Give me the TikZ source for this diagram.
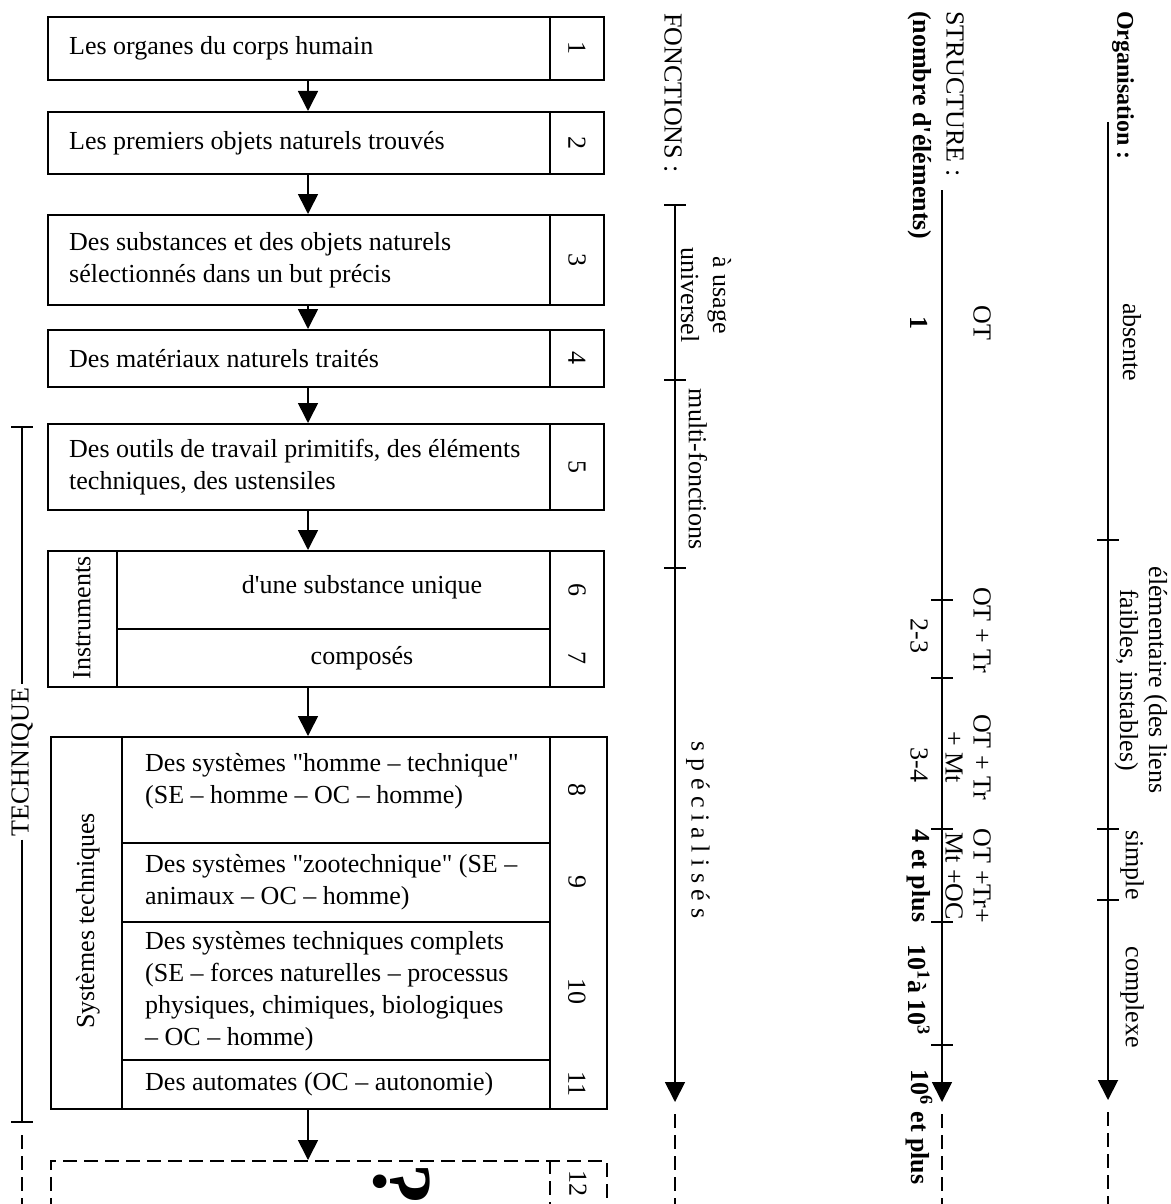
\documentclass[tikz,border=0pt]{standalone}
\usepackage{fontspec}
\newfontfamily\serifplain{Liberation Serif}
\usetikzlibrary{arrows.meta}
\begin{document}
\begin{tikzpicture}[x=1pt,y=-1pt,
  every node/.style={inner sep=0pt, font=\serifplain\fontsize{26}{32}\selectfont},
  frame/.style={draw, line width=1.6pt, anchor=north west},
  dframe/.style={draw, line width=1.6pt, dash pattern=on 14pt off 7pt, anchor=north west},
  lbl/.style={anchor=west, align=left},
  num/.style={rotate=-90},
  vlab/.style={rotate=-90},
  bvlab/.style={rotate=-90, font=\serifplain\fontsize{26}{32}\selectfont\bfseries},
  arr/.style={line width=1.6pt, -{Triangle[length=20pt,width=20pt]}},
  ax/.style={line width=1.8pt},
  axarr/.style={line width=1.8pt, -{Triangle[length=20pt,width=20pt]}},
  dsh/.style={line width=1.6pt, dash pattern=on 14pt off 7pt},
]
\useasboundingbox (0,0) rectangle (1170,1204);
\coordinate (D) at (550,0);
\coordinate (N) at (577,0);
\coordinate (A) at (308,0);

% ---------- numbered boxes ----------
\node[frame, minimum width=556pt, minimum height=63pt] (b1) at (47,16) {};
\node[frame, minimum width=556pt, minimum height=62pt] (b2) at (47,111) {};
\node[frame, minimum width=556pt, minimum height=90pt] (b3) at (47,214) {};
\node[frame, minimum width=556pt, minimum height=57pt] (b4) at (47,329) {};
\node[frame, minimum width=556pt, minimum height=86pt] (b5) at (47,423) {};
\node[frame, minimum width=556pt, minimum height=136pt] (bi) at (47,550) {};
\node[frame, minimum width=556pt, minimum height=372pt] (bs) at (50,736) {};
\node[dframe, minimum width=556pt, minimum height=90pt] (bq) at (50,1160) {};

\foreach \b in {b1,b2,b3,b4,b5,bi,bs}{\draw[line width=1.6pt] (\b.north -| D) -- (\b.south -| D);}
\draw[dsh] (bq.north -| D) -- (bq.south -| D);

\node[lbl] (t1) at ([xshift=22pt]b1.west) {Les organes du corps humain};
\node[lbl] (t2) at ([xshift=22pt]b2.west) {Les premiers objets naturels trouvés};
\node[lbl] (t3) at ([xshift=22pt]b3.west) {Des substances et des objets naturels\\sélectionnés dans un but précis};
\node[lbl] (t4) at ([xshift=22pt]b4.west) {Des matériaux naturels traités};
\node[lbl] (t5) at ([xshift=22pt]b5.west) {Des outils de travail primitifs, des éléments\\techniques, des ustensiles};

\node[num] (n1) at (b1.center -| N) {1};
\node[num] (n2) at (b2.center -| N) {2};
\node[num] (n3) at (b3.center -| N) {3};
\node[num] (n4) at (b4.center -| N) {4};
\node[num] (n5) at (b5.center -| N) {5};

% Instruments
\draw[line width=1.6pt] (117,550) -- (117,686);
\draw[line width=1.6pt] (117,629) -- (550,629);
\node[rotate=90] (ti) at (82,618) {Instruments};
\node (t6) at (362,587) {d'une substance unique};
\node (t7) at (362,658) {composés};
\node[num] (n6) at (577,590) {6};
\node[num] (n7) at (577,658) {7};

% Systemes techniques
\draw[line width=1.6pt] (122,736) -- (122,1108);
\draw[line width=1.6pt] (122,843) -- (550,843);
\draw[line width=1.6pt] (122,922) -- (550,922);
\draw[line width=1.6pt] (122,1060) -- (550,1060);
\node[rotate=90] (ts) at (88,921) {Systèmes techniques};
\node[lbl] (t8) at (145,781) {Des systèmes "homme – technique"\\(SE – homme – OC – homme)};
\node[lbl] (t9) at (145,882) {Des systèmes "zootechnique" (SE –\\animaux – OC – homme)};
\node[lbl] (t10) at (145,991) {Des systèmes techniques complets\\(SE – forces naturelles – processus\\physiques, chimiques, biologiques\\– OC – homme)};
\node[lbl] (t11) at (145,1084) {Des automates (OC – autonomie)};
\node[num] (n8) at (577,790) {8};
\node[num] (n9) at (577,882) {9};
\node[num] (n10) at (577,991) {10};
\node[num] (n11) at (577,1084) {11};
\node[num] (n12) at (578,1183) {12};
\node[rotate=-90, font=\serifplain\fontsize{84}{84}\selectfont\bfseries] (qm) at (402,1184) {?};

% arrows between boxes
\draw[arr] (b1.south -| A) -- (b2.north -| A);
\draw[arr] (b2.south -| A) -- (b3.north -| A);
\draw[arr] (b3.south -| A) -- (b4.north -| A);
\draw[arr] (b4.south -| A) -- (b5.north -| A);
\draw[arr] (b5.south -| A) -- (bi.north -| A);
\draw[arr] (bi.south -| A) -- (bs.north -| A);
\draw[arr] (bs.south -| A) -- (bq.north -| A);

% TECHNIQUE bracket
\coordinate (tt) at (22,427);
\coordinate (tb) at (22,1122);
\node[rotate=90, inner xsep=3pt] (tech) at (22,762) {TECHNIQUE};
\draw[ax] (tt) -- (tech.east);
\draw[ax] (tech.west) -- (tb);
\draw[ax] ([xshift=-11pt]tt) -- ([xshift=11pt]tt);
\draw[ax] ([xshift=-11pt]tb) -- ([xshift=11pt]tb);
\draw[dsh] (22,1135) -- (22,1204);

% FONCTIONS axis
\node[vlab, anchor=west] (fon) at (673,13) {FONCTIONS :};
\coordinate (f0) at (675,205);
\coordinate (f1) at (675,380);
\coordinate (f2) at (675,568);
\coordinate (fe) at (675,1102);
\draw[axarr] (f0) -- (fe);
\foreach \p in {f0,f1,f2}{\draw[ax] ([xshift=-11pt]\p) -- ([xshift=11pt]\p);}
\draw[dsh] (675,1114) -- (675,1204);
\node[vlab, align=center] (fa) at (706,295) {à usage\\universel};
\node[vlab] (fb) at (698,469) {multi-fonctions};
\node[vlab] (fc) at (698,830) {s p é c i a l i s é s};

% STRUCTURE axis
\node[vlab, anchor=west] (st) at (955,11) {STRUCTURE :};
\node[bvlab, anchor=west] (stb) at (920,11) {(nombre d'éléments)};
\coordinate (s0) at (942,190);
\coordinate (s1) at (942,600);
\coordinate (s2) at (942,678);
\coordinate (s3) at (942,829);
\coordinate (s4) at (942,922);
\coordinate (s5) at (942,1045);
\coordinate (se) at (942,1102);
\draw[axarr] (s0) -- (se);
\foreach \p in {s1,s2,s3,s4,s5}{\draw[ax] ([xshift=-11pt]\p) -- ([xshift=11pt]\p);}
\draw[dsh] (942,1114) -- (942,1204);
\node[vlab] (o1) at (982,323) {OT};
\node[bvlab] (c1) at (919,323) {1};
\node[vlab] (o2) at (982,630) {OT + Tr};
\node[vlab] (c2) at (919,636) {2-3};
\node[vlab, align=center, font=\serifplain\fontsize{26}{28}\selectfont] (o3) at (968,757) {OT + Tr\\+ Mt};
\node[vlab] (c3) at (919,765) {3-4};
\node[vlab, align=center, font=\serifplain\fontsize{26}{28}\selectfont] (o4) at (968,876) {OT +Tr+\\Mt +OC};
\node[bvlab] (c4) at (919,876) {4 et plus};
\node[bvlab] (c5) at (919,990) {10\textsuperscript{1}à 10\textsuperscript{3}};
\node[bvlab] (c6) at (919,1127) {10\textsuperscript{6} et plus};

% Organisation axis
\node[vlab, anchor=west, font=\serifplain\fontsize{24}{28}\selectfont\bfseries] (org) at (1123,11) {Organisation :};
\coordinate (g0) at (1108,122);
\coordinate (g1) at (1108,540);
\coordinate (g2) at (1108,829);
\coordinate (g3) at (1108,900);
\coordinate (ge) at (1108,1100);
\draw[axarr] (g0) -- (ge);
\foreach \p in {g1,g2,g3}{\draw[ax] ([xshift=-11pt]\p) -- ([xshift=11pt]\p);}
\draw[dsh] (1108,1112) -- (1108,1204);
\node[vlab] (ga) at (1132,342) {absente};
\node[vlab, align=center, font=\serifplain\fontsize{26}{29}\selectfont] (gb) at (1141,680) {élémentaire (des liens\\faibles, instables)};
\node[vlab] (gc) at (1132,865) {simple};
\node[vlab] (gd) at (1132,997) {complexe};
\end{tikzpicture}
\end{document}
